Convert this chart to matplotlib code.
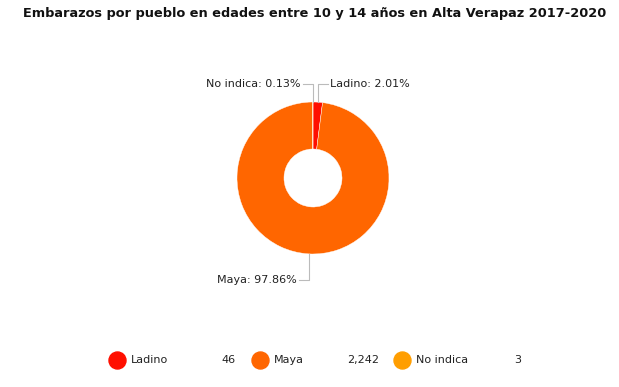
import numpy as np
import matplotlib.pyplot as plt

# data
pueblos = ['Ladino', 'Maya', 'No indica']
embarazos = [46, 2242, 3]
colores = ['#FF0F00', '#FF6600', '#FF9E01']
titulo = 'Embarazos por pueblo en edades entre 10 y 14 años en Alta Verapaz 2017-2020'

W, H = 619, 387
fig = plt.figure(figsize=(W / 100, H / 100), dpi=100)
ax = fig.add_axes([0, 0, 1, 1])

cx, cy, r = 313, H - 178, 76
ax.pie(embarazos, colors=colores, startangle=90, counterclock=False,
       center=(cx, cy), radius=r, frame=True,
       wedgeprops=dict(width=r - 29, edgecolor='white', linewidth=0.3))

total = sum(embarazos)
pct = [v / total * 100 for v in embarazos]

# label placement: (label y in px, side)
label_pos = {'Ladino': (84, 'right'), 'No indica': (84, 'left'), 'Maya': (280, 'left')}
acum = 0
for nombre, v, p in zip(pueblos, embarazos, pct):
    mid = 90 - 360 * (acum + v / 2) / total
    acum += v
    ex = cx + r * np.cos(np.radians(mid))
    ey = cy + r * np.sin(np.radians(mid))
    ly, side = label_pos[nombre]
    ly = H - ly
    dx = 10 if side == 'right' else -10
    ax.plot([ex, ex, ex + dx], [ey, ly, ly], color='#bbbbbb', lw=0.8)
    ax.text(ex + dx + (2 if side == 'right' else -2), ly, f'{nombre}: {p:.2f}%',
            ha='left' if side == 'right' else 'right', va='center',
            fontsize=8, color='#222222')

ax.text(W / 2 + 5, H - 13, titulo, ha='center', va='center',
        fontsize=9.3, fontweight='bold', color='#111111')

# legend
leg_x = [117, 260, 402]
for i, (nombre, v) in enumerate(zip(pueblos, embarazos)):
    x0 = leg_x[i]
    ax.scatter([x0], [H - 360], s=150, color=colores[i], zorder=3)
    ax.text(x0 + 14, H - 360, nombre, ha='left', va='center', fontsize=8, color='#222222')
    ax.text(x0 + 119, H - 360, f'{v:,}', ha='right', va='center', fontsize=8, color='#222222')

ax.set_xlim(0, W)
ax.set_ylim(0, H)
ax.set_aspect('equal')
ax.axis('off')

plt.savefig('out.png', dpi=100)
